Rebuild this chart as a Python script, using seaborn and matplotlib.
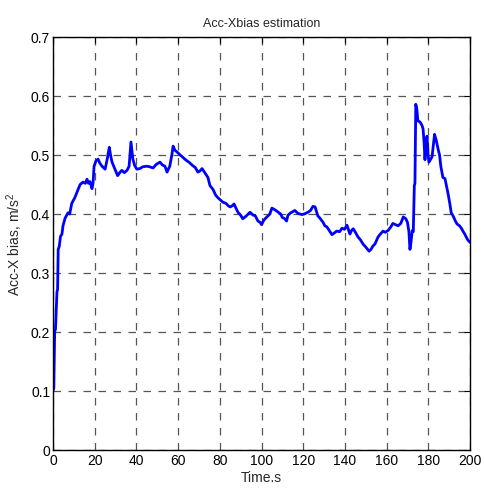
import matplotlib
matplotlib.use("Agg")
import matplotlib.pyplot as plt
import seaborn as sns
import pandas as pd

# (10 values per row, rows aligned)
time_s = [
    0.0, 0.4, 0.8, 1.2, 1.9, 2.2, 2.5, 3.0, 3.6, 4.3,
    4.8, 5.8, 7.2, 8.0, 9.0, 9.6, 10.5, 11.5, 13.0, 14.4,
    15.5, 16.3, 17.0, 17.7, 18.7, 19.2, 19.7, 20.6, 21.6, 22.5,
    23.5, 25.0, 26.0, 27.0, 27.6, 28.3, 29.7, 31.0, 32.0, 33.0,
    34.2, 35.5, 36.5, 37.0, 37.4, 38.3, 39.2, 40.2, 41.7, 43.0,
    45.0, 46.4, 48.0, 49.5, 51.3, 52.5, 53.7, 54.7, 56.0, 57.0,
    57.6, 58.5, 59.5, 61.0, 62.0, 63.2, 64.3, 65.5, 67.0, 68.2,
    69.5, 70.5, 71.5, 72.8, 74.3, 75.3, 76.7, 78.0, 79.0, 80.2,
    81.5, 83.0, 84.0, 85.0, 86.0, 86.8, 88.0, 88.7, 90.0, 91.0,
    92.5, 94.5, 96.0, 97.0, 98.3, 99.3, 100.0, 101.2, 102.6, 104.0,
    105.0, 106.5, 108.0, 109.2, 110.0, 111.2, 112.0, 112.7, 114.0, 116.0,
    117.5, 119.4, 120.5, 122.3, 123.5, 124.7, 125.7, 127.0, 128.0, 129.5,
    130.4, 131.4, 132.5, 133.8, 135.0, 136.0, 137.5, 138.6, 139.8, 141.0,
    142.4, 143.2, 144.0, 145.2, 146.3, 147.5, 148.7, 150.0, 151.6, 152.5,
    153.5, 154.4, 155.9, 157.0, 158.3, 159.3, 160.7, 162.0, 163.0, 164.3,
    165.5, 166.8, 168.0, 169.2, 170.0, 170.7, 171.2, 171.7, 172.3, 172.8,
    173.3, 173.6, 174.0, 174.5, 175.0, 176.0, 177.0, 177.5, 178.0, 178.4,
    178.9, 179.4, 179.9, 180.3, 181.0, 181.8, 182.5, 183.0, 183.8, 184.7,
    185.4, 186.0, 187.0, 188.0, 188.8, 189.5, 190.3, 191.0, 192.0, 193.0,
    193.8, 195.0, 196.0, 196.6, 197.5, 198.6, 199.2, 200.0,
]
acc_x_bias = [
    0.100, 0.105, 0.200, 0.205, 0.268, 0.272, 0.340, 0.345, 0.362, 0.366,
    0.380, 0.393, 0.402, 0.400, 0.418, 0.422, 0.428, 0.437, 0.450, 0.454,
    0.452, 0.459, 0.452, 0.455, 0.443, 0.452, 0.481, 0.490, 0.493, 0.486,
    0.481, 0.476, 0.493, 0.513, 0.500, 0.488, 0.476, 0.465, 0.470, 0.474,
    0.470, 0.474, 0.481, 0.505, 0.522, 0.493, 0.482, 0.476, 0.477, 0.480,
    0.481, 0.480, 0.478, 0.484, 0.488, 0.483, 0.481, 0.471, 0.481, 0.500,
    0.515, 0.508, 0.505, 0.500, 0.497, 0.493, 0.490, 0.487, 0.482, 0.479,
    0.471, 0.473, 0.477, 0.470, 0.462, 0.448, 0.442, 0.432, 0.428, 0.424,
    0.420, 0.418, 0.414, 0.412, 0.414, 0.417, 0.408, 0.403, 0.398, 0.392,
    0.396, 0.403, 0.398, 0.397, 0.388, 0.386, 0.382, 0.390, 0.395, 0.400,
    0.410, 0.407, 0.403, 0.400, 0.394, 0.392, 0.388, 0.398, 0.402, 0.406,
    0.401, 0.399, 0.400, 0.403, 0.406, 0.413, 0.412, 0.397, 0.393, 0.386,
    0.380, 0.378, 0.372, 0.365, 0.368, 0.371, 0.370, 0.376, 0.374, 0.381,
    0.366, 0.372, 0.375, 0.368, 0.361, 0.356, 0.349, 0.344, 0.337, 0.340,
    0.346, 0.349, 0.361, 0.366, 0.371, 0.369, 0.372, 0.378, 0.384, 0.382,
    0.380, 0.384, 0.395, 0.392, 0.386, 0.370, 0.340, 0.352, 0.372, 0.370,
    0.448, 0.452, 0.586, 0.578, 0.558, 0.556, 0.550, 0.544, 0.520, 0.492,
    0.520, 0.532, 0.500, 0.488, 0.492, 0.497, 0.520, 0.535, 0.525, 0.510,
    0.500, 0.481, 0.462, 0.460, 0.446, 0.434, 0.418, 0.402, 0.396, 0.388,
    0.383, 0.380, 0.375, 0.371, 0.366, 0.358, 0.355, 0.352,
]

title_text = "Acc-Xbias estimation"
x_label = "Time.s"
y_label = r"Acc-X bias, m/s$^2$"
x_ticks = [0, 20, 40, 60, 80, 100, 120, 140, 160, 180, 200]
y_ticks = [0, 0.1, 0.2, 0.3, 0.4, 0.5, 0.6, 0.7]
y_tick_labels = ["0", "0.1", "0.2", "0.3", "0.4", "0.5", "0.6", "0.7"]

n = min(len(time_s), len(acc_x_bias))

sns.set_style("white")
plt.rcParams["font.family"] = ["Liberation Sans", "DejaVu Sans"]
plt.rcParams["mathtext.fontset"] = "custom"
plt.rcParams["mathtext.rm"] = "Liberation Sans"
plt.rcParams["mathtext.it"] = "Liberation Sans"

df = pd.DataFrame({"t": time_s[:n], "v": acc_x_bias[:n]})

fig = plt.figure(figsize=(4.84, 4.89), dpi=100)
ax = fig.add_axes([53 / 484, 1 - 451 / 489, (470 - 53) / 484, (451 - 38) / 489])
sns.lineplot(data=df, x="t", y="v", ax=ax, color="#0000ff", linewidth=2.0, sort=False)

ax.set_xlim(0, 200)
ax.set_ylim(0, 0.7)
ax.set_xticks(x_ticks)
ax.set_yticks(y_ticks)
ax.set_yticklabels(y_tick_labels)
ax.grid(True, linestyle=(0, (6, 6)), color="#555555", linewidth=0.9)
ax.tick_params(direction="in", length=4, width=0.8, top=True, right=True,
               labelsize=10, pad=2, colors="black")
for s in ax.spines.values():
    s.set_color("black")
    s.set_linewidth(1.0)
ax.set_title(title_text, fontsize=9, pad=8)
ax.set_xlabel(x_label, fontsize=10, labelpad=2)
ax.set_ylabel(y_label, fontsize=10, labelpad=4)

fig.savefig("out.png", dpi=100)
